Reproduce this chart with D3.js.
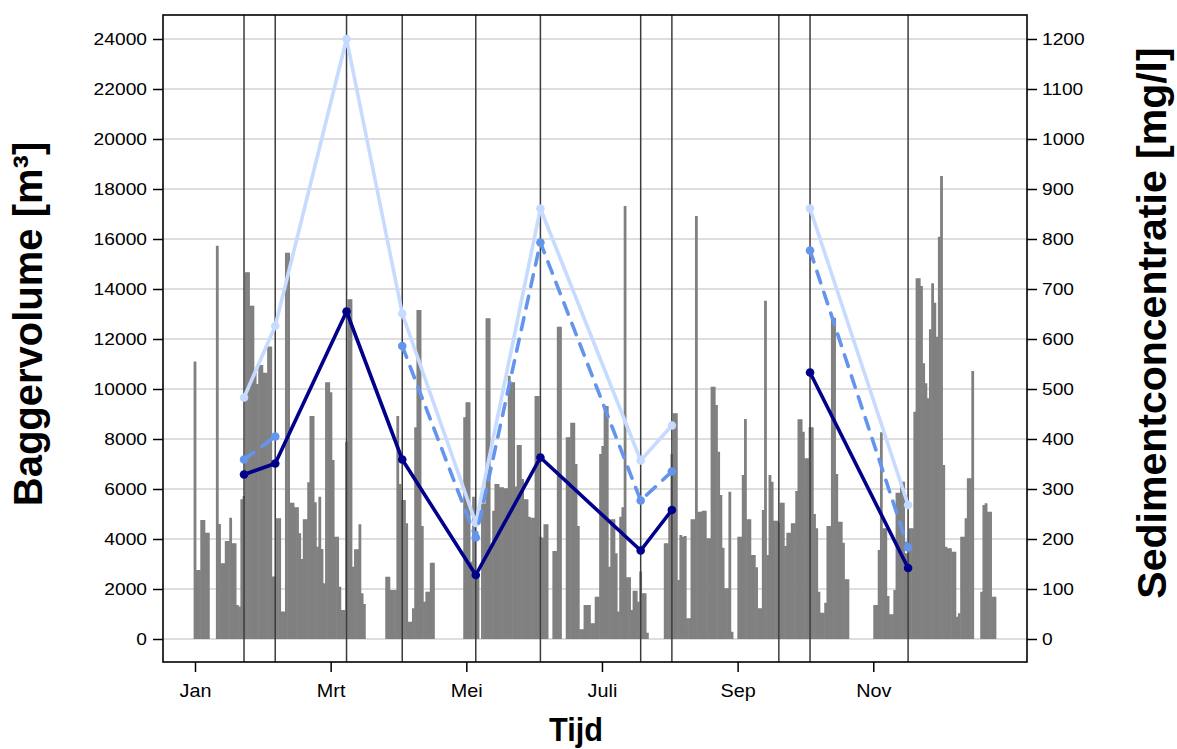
<!DOCTYPE html>
<html>
<head>
<meta charset="utf-8">
<script src="https://cdn.jsdelivr.net/npm/d3@7"></script>
<style>
  body { margin: 0; background: #fff; }
  text { font-family: "Liberation Sans", Arial, sans-serif; }
</style>
</head>
<body>
<svg id="chart" width="1177" height="749"></svg>
<script>
// Month tick labels (every second month) and their month index
const monthLabels = ["Jan", "Mrt", "Mei", "Juli", "Sep", "Nov"];
const monthIndex = [0, 2, 4, 6, 8, 10];

// Axis tick values
const volumeTicks = d3.range(0, 24001, 2000);
const concTicks = d3.range(0, 1201, 100);

// Daily dredged volume [m3], day 0 = 1 January
const dailyVolume = [
  11100, 2760, 2760, 4760, 4760, 4250, 4250, 0, 0, 0,
  15730, 4600, 3030, 3030, 3920, 3920, 4850, 3830, 3830, 1360,
  1300, 5590, 5720, 14670, 14670, 13330, 13330, 10700, 10200, 10960,
  10960, 10650, 10650, 11700, 11700, 2500, 2500, 4830, 4830, 1100,
  1100, 15450, 15450, 5450, 5450, 5270, 5270, 4230, 3200, 4790,
  4790, 6270, 8920, 8920, 5470, 3690, 5690, 3600, 2230, 10270,
  10270, 9870, 7160, 4090, 4090, 2090, 1160, 1160, 7890, 13590,
  13590, 2890, 3590, 3590, 4590, 1830, 1400, 0, 0, 0,
  0, 0, 0, 0, 0, 0, 2490, 2490, 1960, 1960,
  1960, 8920, 6200, 5560, 5560, 4630, 690, 690, 1230, 8470,
  13160, 13160, 4520, 1490, 1890, 1890, 3050, 3050, 0, 0,
  0, 0, 0, 0, 0, 0, 0, 0, 0, 0,
  0, 8870, 9470, 9470, 3090, 5690, 2470, 2470, 0, 5420,
  5420, 12830, 12830, 3690, 5130, 6200, 6200, 6070, 6070, 6030,
  6030, 10530, 10270, 10270, 6100, 7760, 7760, 6400, 5590, 5590,
  4890, 4850, 4850, 9720, 9720, 4090, 4050, 4590, 4590, 0,
  0, 3520, 3520, 12490, 12490, 0, 0, 8070, 8070, 8650,
  8650, 7000, 4520, 390, 390, 1360, 1360, 1360, 630, 630,
  1690, 1690, 7400, 7720, 9320, 9320, 2890, 4790, 4790, 3430,
  1100, 4890, 5270, 17320, 2470, 2470, 1160, 1930, 1930, 1490,
  2700, 1830, 1830, 250, 0, 0, 0, 0, 0, 0,
  0, 3830, 3830, 5270, 7400, 9030, 9030, 2360, 4160, 4090,
  4120, 830, 830, 4790, 4790, 16920, 5090, 5090, 5130, 5130,
  4030, 4030, 10090, 10090, 9360, 7490, 5760, 3650, 2030, 2030,
  5890, 290, 0, 0, 4090, 4090, 6560, 8800, 4790, 4790,
  3360, 3360, 2870, 1230, 1230, 5160, 13530, 3360, 6560, 6290,
  4730, 4730, 4650, 5450, 5450, 3720, 4250, 4250, 4630, 4630,
  5920, 8790, 8790, 8290, 7230, 7230, 8470, 8470, 5000, 4430,
  1890, 1050, 1050, 1450, 4520, 4520, 12850, 12850, 6600, 4690,
  4690, 3850, 2390, 2390, 0, 0, 0, 0, 0, 0,
  0, 0, 0, 0, 0, 1360, 1360, 3560, 8270, 4430,
  4430, 1720, 990, 990, 1960, 5850, 5850, 6290, 6290, 3430,
  3430, 4430, 4430, 9090, 14430, 14430, 14120, 11030, 10230, 9630,
  12390, 14230, 13450, 12090, 16090, 18520, 6960, 3690, 3630, 3630,
  3490, 3490, 890, 1030, 4090, 4090, 4830, 6430, 6430, 10720,
  0, 0, 0, 1890, 5360, 5430, 5090, 5090, 1690, 1690
];

// Sampling days (day of year) and sediment concentration [mg/l]
const sampleDays = [22, 36, 68, 93, 126, 155, 200, 214, 262, 276, 320];
const concLight  = [483, 626, 1200, 651, 232, 861, 357, 427, null, 861, 268];
const concDashed = [359, 405, null, 586, 203, 793, 277, 335, null, 777, 183];
const concDark   = [329, 351, 655, 359, 128, 363, 177, 258, null, 533, 142];

const svg = d3.select("#chart");

const box = { left: 163, right: 1027, top: 15, bottom: 662 };
const nDays = dailyVolume.length - 1;
const daysPerMonth = 365.25 / 12;

const x = d3.scaleLinear()
  .domain([-0.04 * nDays, nDays * 1.04])
  .range([box.left, box.right]);
const yLeft = d3.scaleLinear().domain([0, 24000]).range([639, 39]);
const yRight = d3.scaleLinear().domain([0, 1200]).range([639, 39]);

// Horizontal grid
svg.append("g")
  .selectAll("line")
  .data(volumeTicks)
  .join("line")
  .attr("x1", box.left).attr("x2", box.right)
  .attr("y1", d => yLeft(d)).attr("y2", d => yLeft(d))
  .attr("stroke", "#d3d3d3")
  .attr("stroke-width", 1.5);

// Daily volume bars
const barW = 2.8;
svg.append("g")
  .selectAll("rect")
  .data(dailyVolume.map((v, i) => ({ day: i, v })).filter(d => d.v > 0))
  .join("rect")
  .attr("x", d => x(d.day) - barW / 2)
  .attr("width", barW)
  .attr("y", d => yLeft(d.v))
  .attr("height", d => yLeft(0) - yLeft(d.v))
  .attr("fill", "#808080");

// Sampling moments
svg.append("g")
  .selectAll("line")
  .data(sampleDays)
  .join("line")
  .attr("x1", d => x(d)).attr("x2", d => x(d))
  .attr("y1", box.top).attr("y2", box.bottom)
  .attr("stroke", "#3c3c3c")
  .attr("stroke-width", 1.5);

// Concentration series
const series = [
  { values: concLight, color: "#c6dbff", dash: null },
  { values: concDashed, color: "#6495ed", dash: "12,10" },
  { values: concDark, color: "#00008b", dash: null }
];
const line = d3.line()
  .defined(d => d.v != null)
  .x(d => x(d.day))
  .y(d => yRight(d.v));

series.forEach(s => {
  const pts = sampleDays.map((day, i) => ({ day, v: s.values[i] }));
  svg.append("path")
    .datum(pts)
    .attr("d", line)
    .attr("fill", "none")
    .attr("stroke", s.color)
    .attr("stroke-width", 3.6)
    .attr("stroke-linecap", "round")
    .attr("stroke-linejoin", "round")
    .attr("stroke-dasharray", s.dash);
  svg.append("g")
    .selectAll("circle")
    .data(pts.filter(d => d.v != null))
    .join("circle")
    .attr("cx", d => x(d.day))
    .attr("cy", d => yRight(d.v))
    .attr("r", 4.3)
    .attr("fill", s.color);
});

// Frame
svg.append("rect")
  .attr("x", box.left).attr("y", box.top)
  .attr("width", box.right - box.left)
  .attr("height", box.bottom - box.top)
  .attr("fill", "none")
  .attr("stroke", "#000")
  .attr("stroke-width", 1.6);

// Stretch a tick label horizontally around its anchor point
function stretch(sel, sx) {
  sel.each(function () {
    const t = d3.select(this);
    const x0 = +t.attr("x") || 0;
    const y0 = +t.attr("y") || 0;
    t.attr("x", 0).attr("y", 0)
      .attr("transform", `translate(${x0},${y0}) scale(${sx},1)`);
  });
}

function styleAxis(g, size) {
  g.select(".domain").remove();
  g.selectAll(".tick line").attr("stroke", "#000").attr("stroke-width", 1.5);
  g.selectAll(".tick text")
    .attr("fill", "#000")
    .style("font-family", "'Liberation Sans', Arial, sans-serif")
    .style("font-size", size + "px");
}

const gLeft = svg.append("g")
  .attr("transform", `translate(${box.left},0)`)
  .call(d3.axisLeft(yLeft).tickValues(volumeTicks).tickSize(10).tickPadding(6).tickFormat(d3.format("d")))
  .call(g => styleAxis(g, 17));
stretch(gLeft.selectAll(".tick text"), 1.13);

const gRight = svg.append("g")
  .attr("transform", `translate(${box.right},0)`)
  .call(d3.axisRight(yRight).tickValues(concTicks).tickSize(10).tickPadding(5).tickFormat(d3.format("d")))
  .call(g => styleAxis(g, 17));
stretch(gRight.selectAll(".tick text"), 1.13);

const gBottom = svg.append("g")
  .attr("transform", `translate(0,${box.bottom})`)
  .call(d3.axisBottom(x)
    .tickValues(monthIndex.map(m => m * daysPerMonth))
    .tickSize(10).tickPadding(12)
    .tickFormat((d, i) => monthLabels[i]))
  .call(g => styleAxis(g, 18));
stretch(gBottom.selectAll(".tick text"), 1.1);

// Axis titles
svg.append("text")
  .attr("transform", "translate(42,324) rotate(-90)")
  .attr("text-anchor", "middle")
  .style("font-weight", "bold")
  .style("font-size", "40px")
  .text("Baggervolume [m³]");

svg.append("text")
  .attr("transform", "translate(1166,323) rotate(-90)")
  .attr("text-anchor", "middle")
  .style("font-weight", "bold")
  .style("font-size", "41px")
  .text("Sedimentconcentratie [mg/l]");

svg.append("text")
  .attr("transform", "translate(576,741) scale(0.93,1)")
  .attr("text-anchor", "middle")
  .style("font-weight", "bold")
  .style("font-size", "33px")
  .text("Tijd");
</script>
</body>
</html>
